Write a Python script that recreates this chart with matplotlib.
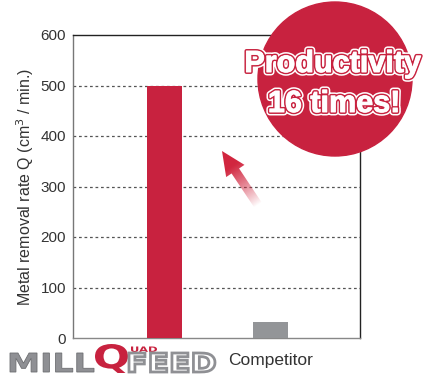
import numpy as np
import matplotlib
matplotlib.use("Agg")
import matplotlib.pyplot as plt
from matplotlib.patches import Circle, Polygon, PathPatch
from matplotlib.textpath import TextPath
from matplotlib.font_manager import FontProperties, fontManager
from matplotlib.transforms import Affine2D
from matplotlib import patheffects as pe

# Data
categories = ["MILLQUADFEED", "Competitor"]
removal_rate = [500, 31.25]
y_ticks = [0, 100, 200, 300, 400, 500, 600]
bar_colors = ["#C8223F", "#939598"]

RED = "#C8223F"
GREY = "#8f9094"
TEXT = "#333333"


def bold_sans(size):
    """Liberation Sans Bold (the regular-width face, not Narrow)."""
    for f in fontManager.ttflist:
        if (f.name == "Liberation Sans" and f.weight in (700, "bold")
                and f.style == "normal" and "Narrow" not in f.fname):
            return FontProperties(fname=f.fname, size=size)
    return FontProperties(family="DejaVu Sans", weight="bold", size=size)


BOLD = bold_sans(22)

W, H = 426, 374
fig = plt.figure(figsize=(W / 100, H / 100), dpi=100)
fig.patch.set_facecolor("white")

# Main bar chart
ax = fig.add_axes([73 / W, 1 - 338 / H, (360 - 73) / W, (338 - 35) / H])
x = np.arange(len(categories))
ax.bar(x, removal_rate, width=0.33, color=bar_colors, zorder=3)
ax.set_xlim(-0.863, 1.844)
ax.set_ylim(0, 600)
ax.set_yticks(y_ticks)
ax.set_yticklabels([str(t) for t in y_ticks], fontsize=11, color=TEXT,
                   family="Liberation Sans")
ax.tick_params(axis="y", length=0, pad=5)
ax.set_xticks([])
for t in y_ticks[1:-1]:
    ax.axhline(t, color="#555555", lw=0.9, ls=(0, (2.2, 2.2)), zorder=1)
ax.spines["left"].set_color("#777777")
ax.spines["bottom"].set_color("#888888")
ax.spines["top"].set_color("#222222")
ax.spines["right"].set_color("#222222")
for s in ax.spines.values():
    s.set_linewidth(1.0)
ax.set_ylabel("Metal removal rate Q (cm$^3$ / min.)", fontsize=11.5,
              color=TEXT, family="Liberation Sans", labelpad=3)

# Overlay in pixel coordinates for the badge, arrow and logo
ov = fig.add_axes([0, 0, 1, 1], zorder=5)
ov.set_xlim(0, W)
ov.set_ylim(H, 0)
ov.axis("off")
ov.patch.set_alpha(0)

# Badge: white lettering with a thin red contour and an outer white halo
ov.add_patch(Circle((335, 79), 77, color=RED, zorder=2))
badge_fx = [pe.Stroke(linewidth=5.0, foreground="white"),
            pe.Stroke(linewidth=2.8, foreground=RED),
            pe.Stroke(linewidth=0.7, foreground="white"),
            pe.Normal()]
for label, cx, by in [("Productivity", 332.5, 72), ("16 times!", 334, 112)]:
    ov.text(cx, by, label, ha="center", va="baseline",
            fontproperties=BOLD, color="white",
            path_effects=badge_fx, zorder=3)

# Gradient arrow
tip = np.array([222.0, 151.0])
tail = np.array([258.0, 205.0])
d = tip - tail
L = np.hypot(*d)
u = d / L
n = np.array([-u[1], u[0]])
head_len, head_w, shaft_w = 24, 11, 4.5
base = tip - u * head_len
pts = [tip,
       base + n * head_w, base + n * shaft_w,
       tail + n * shaft_w, tail - n * shaft_w,
       base - n * shaft_w, base - n * head_w]
poly = Polygon(pts, closed=True, facecolor="none", edgecolor="none")
ov.add_patch(poly)
gx, gy = np.meshgrid(np.linspace(200, 280, 200), np.linspace(140, 215, 200))
proj = ((gx - tail[0]) * u[0] + (gy - tail[1]) * u[1]) / L
proj = np.clip(proj, 0, 1)
rgba = np.zeros(gx.shape + (4,))
rgba[..., 0] = 0.82
rgba[..., 1] = 0.15
rgba[..., 2] = 0.25
rgba[..., 3] = np.clip(proj * 1.4, 0, 1) ** 0.9
im = ov.imshow(rgba, extent=(200, 280, 215, 140), origin="upper",
               interpolation="bilinear", zorder=2)
im.set_clip_path(poly)
ov.set_xlim(0, W)
ov.set_ylim(H, 0)


def boxed_text(s, x0, x1, y0, y1, face, edge="none", lw=0.0):
    """Draw a string as an outline path stretched to fill a pixel box."""
    fp = FontProperties(family="DejaVu Sans", weight="bold")
    tp = TextPath((0, 0), s, size=10, prop=fp)
    ext = tp.get_extents()
    sx = (x1 - x0) / ext.width
    sy = (y1 - y0) / ext.height
    tr = (Affine2D().translate(-ext.x0, -ext.y0).scale(sx, -sy)
          .translate(x0, y1))
    path = tr.transform_path(tp)
    ov.add_patch(PathPatch(path, facecolor=face, edgecolor=edge, lw=lw,
                           zorder=4))


# Category labels
boxed_text("MILL", 10, 94, 353, 372, GREY, edge="#6d6e71", lw=0.6)
boxed_text("Q", 95, 128, 344, 373, RED)
boxed_text("UAD", 131, 157, 346.5, 352, RED)
boxed_text("FEED", 129, 215, 353, 372, "white", edge=GREY, lw=2.0)
ov.text(228, 361, "Competitor", ha="left", va="center", fontsize=12.5,
        color=TEXT, family="Liberation Sans")

fig.savefig("out.png", dpi=100)
